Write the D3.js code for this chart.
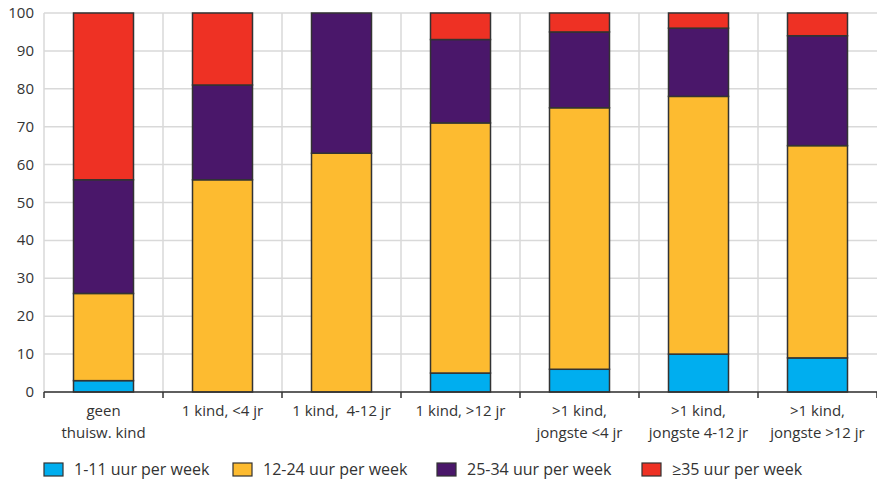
<!DOCTYPE html>
<html><head><meta charset="utf-8">
<script src="https://cdn.jsdelivr.net/npm/d3@7"></script>
<style>
body{margin:0;background:#fff;}
text{font-family:"Open Sans","Noto Sans",sans-serif;fill:#333;}
</style></head>
<body><svg id="c" width="877" height="484"></svg>
<script>
const categories = [["geen","thuisw. kind"],["1 kind, <4 jr"],["1 kind,  4-12 jr"],["1 kind, >12 jr"],[">1 kind,","jongste <4 jr"],[">1 kind,","jongste 4-12 jr"],[">1 kind,","jongste >12 jr"]];
const seriesNames = ["1-11 uur per week","12-24 uur per week","25-34 uur per week","≥35 uur per week"];
const s1 = [3, 0, 0, 5, 6, 10, 9];
const s2 = [23, 56, 63, 66, 69, 68, 56];
const s3 = [30, 25, 37, 22, 20, 18, 29];
const s4 = [44, 19, 0, 7, 5, 4, 6];
const yTicks = [0,10,20,30,40,50,60,70,80,90,100];
const colors = ["#00AEEF","#FDBB30","#4A176A","#EE3124"];

const svg = d3.select("#c");
const L=44, R=877, T=13, B=392;
const x = d3.scaleBand().domain(d3.range(categories.length)).range([L,R]).paddingInner(0).paddingOuter(0);
const y = d3.scaleLinear().domain([0,100]).range([B,T]);
const bw = 60;

const g = svg.append("g");
g.selectAll("line.h").data(yTicks).join("line")
 .attr("x1",L).attr("x2",R).attr("y1",d=>y(d)).attr("y2",d=>y(d))
 .attr("stroke","#d9d9d9").attr("stroke-width",1.5);
const bounds = d3.range(categories.length).map(i=>x(i));
g.selectAll("line.v").data(bounds).join("line")
 .attr("x1",d=>d).attr("x2",d=>d).attr("y1",T).attr("y2",B)
 .attr("stroke","#d9d9d9").attr("stroke-width",1.5);

const rows = categories.map((c,i)=>({i, a:s1[i], b:s2[i], c:s3[i], d:s4[i]}));
const stack = d3.stack().keys(["a","b","c","d"])(rows);
stack.forEach((layer,k)=>{
  g.selectAll(null).data(layer.filter(d=>d[1]-d[0]>0)).join("rect")
   .attr("x",d=>x(d.data.i)+x.bandwidth()/2-bw/2).attr("width",bw)
   .attr("y",d=>y(d[1])).attr("height",d=>y(d[0])-y(d[1]))
   .attr("fill",colors[k]).attr("stroke","#333").attr("stroke-width",1.5);
});

g.append("line").attr("x1",L).attr("x2",R).attr("y1",B).attr("y2",B).attr("stroke","#333").attr("stroke-width",1.5);
g.selectAll("line.t").data(bounds.concat([R])).join("line")
 .attr("x1",d=>d).attr("x2",d=>d).attr("y1",B).attr("y2",B+6).attr("stroke","#333").attr("stroke-width",1.5);

g.selectAll("text.y").data(yTicks).join("text")
 .attr("x",34).attr("y",d=>y(d)+5).attr("text-anchor","end").attr("font-size",15).text(d=>d);

categories.forEach((lines,i)=>{
  const t = g.append("text").attr("text-anchor","middle").attr("font-size",15)
    .attr("x",x(i)+x.bandwidth()/2).attr("y",416).attr("xml:space","preserve");
  lines.forEach((l,j)=>t.append("tspan").attr("x",x(i)+x.bandwidth()/2).attr("dy",j?22:0).text(l));
});

const lx = [44,233,437,642];
seriesNames.forEach((n,k)=>{
  g.append("rect").attr("x",lx[k]).attr("y",463).attr("width",19).attr("height",13)
   .attr("fill",colors[k]).attr("stroke","#333").attr("stroke-width",1.2);
  g.append("text").attr("x",lx[k]+30).attr("y",475).attr("font-size",16).text(n);
});
</script></body></html>
